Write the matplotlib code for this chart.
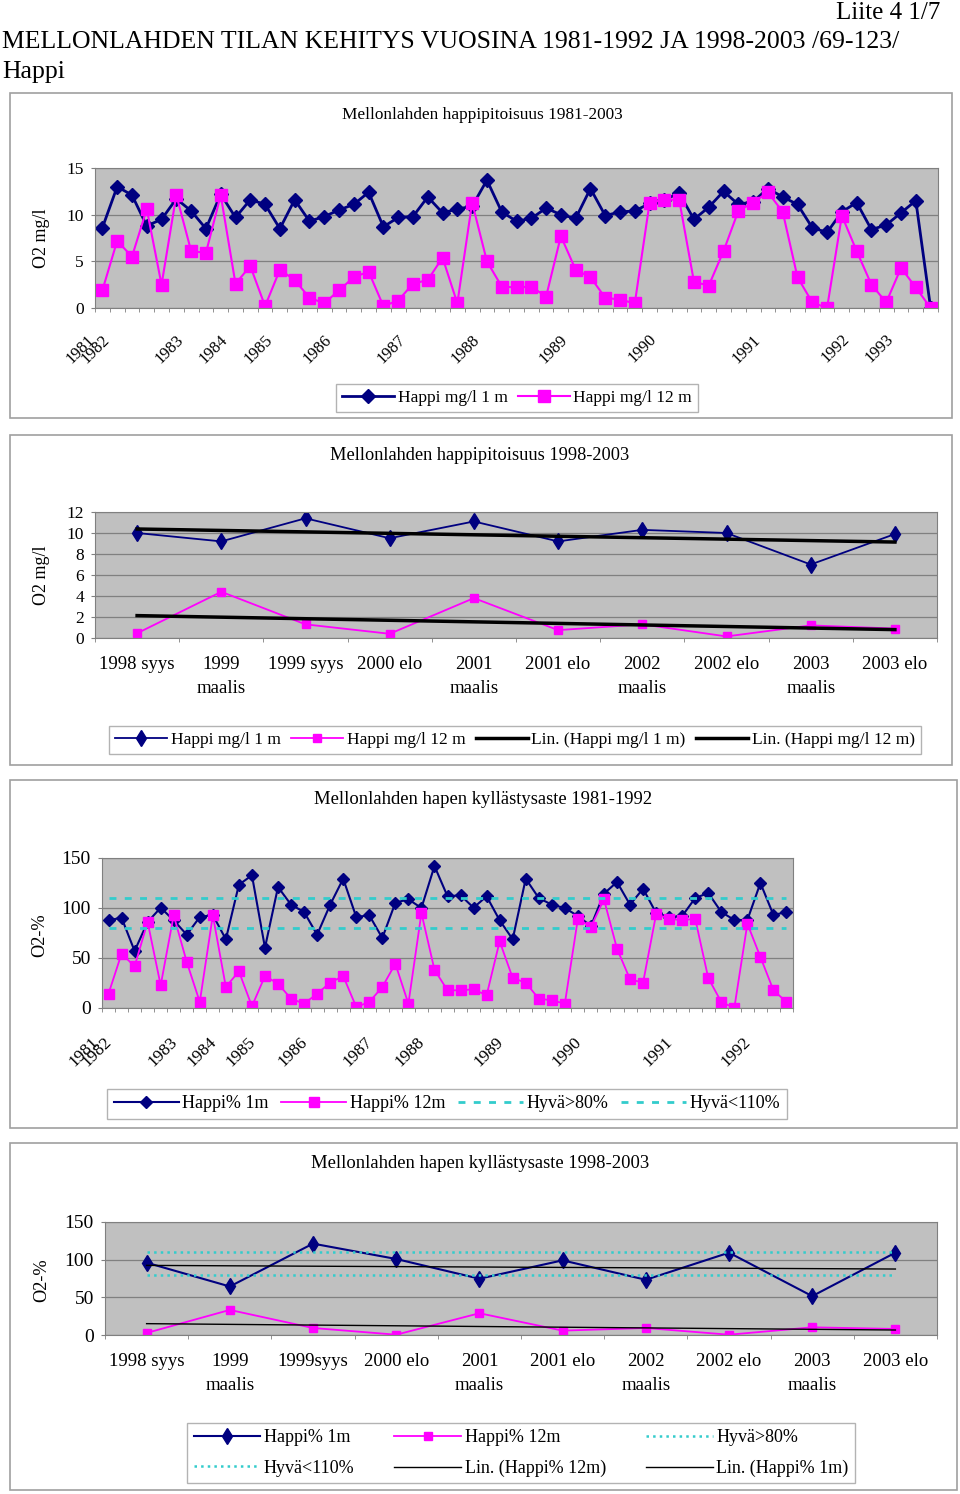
import numpy as np
import matplotlib
matplotlib.use('Agg')
import matplotlib.pyplot as plt
from matplotlib.patches import Rectangle
from matplotlib.transforms import ScaledTranslation

plt.rcParams['font.family'] = ['Liberation Serif', 'DejaVu Serif']
plt.rcParams['font.size'] = 12

# ---------------- data ----------------
# 1981-2003 oxygen, mg/l (one value per sampling)
happi_1m = [8.6, 13.0, 12.1, 8.8, 9.5, 11.7, 10.4, 8.5, 12.2, 9.7,
            11.6, 11.1, 8.5, 11.6, 9.3, 9.8, 10.5, 11.1, 12.4, 8.7,
            9.7, 9.8, 11.9, 10.2, 10.6, 10.9, 13.7, 10.3, 9.3, 9.6,
            10.7, 10.0, 9.6, 12.8, 9.9, 10.3, 10.4, 11.2, 11.6, 12.3,
            9.5, 10.8, 12.5, 11.1, 11.4, 12.8, 11.9, 11.1, 8.6, 8.1,
            10.3, 11.3, 8.4, 8.9, 10.2, 11.5, 0.0]
happi_12m = [1.9, 7.2, 5.5, 10.6, 2.5, 12.1, 6.1, 5.9, 12.1, 2.6,
             4.5, 0.2, 4.1, 3.0, 1.1, 0.5, 1.9, 3.3, 3.9, 0.2,
             0.8, 2.6, 3.0, 5.4, 0.5, 11.3, 5.0, 2.3, 2.2, 2.3,
             1.2, 7.7, 4.1, 3.3, 1.1, 0.9, 0.5, 11.3, 11.6, 11.6,
             2.8, 2.4, 6.1, 10.4, 11.3, 12.4, 10.3, 3.3, 0.6, 0.0,
             9.9, 6.1, 2.5, 0.6, 4.3, 2.2, 0.0]
years1_pos = [0, 1, 6, 9, 12, 16, 21, 26, 32, 38, 45, 51, 54]
years1_lbl = ['1981', '1982', '1983', '1984', '1985', '1986', '1987',
              '1988', '1989', '1990', '1991', '1992', '1993']

# 1998-2003 oxygen, mg/l
kaudet = ['1998 syys', '1999\nmaalis', '1999 syys', '2000 elo', '2001\nmaalis',
          '2001 elo', '2002\nmaalis', '2002 elo', '2003\nmaalis', '2003 elo']
kaudet4 = ['1998 syys', '1999\nmaalis', '1999syys', '2000 elo', '2001\nmaalis',
           '2001 elo', '2002\nmaalis', '2002 elo', '2003\nmaalis', '2003 elo']
mg_1m = [10.0, 9.2, 11.4, 9.5, 11.1, 9.2, 10.3, 10.0, 7.0, 9.9]
mg_12m = [0.45, 4.4, 1.3, 0.4, 3.8, 0.75, 1.3, 0.15, 1.2, 0.9]

# 1981-1992 saturation, %
sat_1m = [87.7, 90.3, 57, 86, 100.3, 87.7, 73.3, 91, 93, 68.7,
          123.3, 132.7, 60.3, 121, 103.3, 96, 73.3, 103.3, 129.3, 91,
          92.7, 70, 105.3, 108.7, 100, 142, 111.7, 112.7, 100.3, 111.7,
          87.7, 68.7, 129.3, 110, 103.3, 100, 92, 82, 114.3, 126,
          103.3, 119.3, 95, 91, 92, 110, 115, 96, 88, 88,
          125, 93, 96]
sat_12m = [14.3, 54.3, 41.7, 86, 22.7, 92.7, 46, 6, 92.7, 21,
           36.7, 1.7, 32, 24.3, 9.3, 4.3, 14.3, 25.3, 32, 1,
           6, 21, 44.3, 4.3, 95, 38.3, 17.7, 17.7, 18.7, 12.7,
           66.7, 30, 25.3, 9.3, 7.7, 4.3, 89.3, 81, 108.7, 59.3,
           28.7, 25.3, 93.7, 89.3, 87.7, 89.3, 30, 6, 0, 84.3,
           51, 17.7, 6]
years3_pos = [0, 1, 6, 9, 12, 16, 21, 25, 31, 37, 44, 50]
years3_lbl = ['1981', '1982', '1983', '1984', '1985', '1986', '1987',
              '1988', '1989', '1990', '1991', '1992']

# 1998-2003 saturation, %
sat2_1m = [96, 64.4, 121.3, 100.9, 74.7, 99.1, 73.3, 109.3, 51.6, 109.3]
sat2_12m = [2.7, 33.3, 9.3, 0.4, 28.9, 5.8, 9.3, 0.4, 10.2, 8.0]

hyva_ala = 80
hyva_yla = 110

# ---------------- style ----------------
BLUE = '#000080'
PINK = '#FF00FF'
CYAN = '#33CCCC'
W, H = 960, 1494

fig = plt.figure(figsize=(W / 100, H / 100), dpi=100)


def fx(x):
    return x / W


def fy(y):
    return 1 - y / H


def box(x0, y0, x1, y1):
    fig.add_artist(Rectangle((fx(x0), fy(y1)), (x1 - x0) / W, (y1 - y0) / H,
                             transform=fig.transFigure, fill=False,
                             edgecolor='#a0a0a0', lw=1.2))


def make_axes(x0, y0, x1, y1, n, ysize):
    ax = fig.add_axes([fx(x0), fy(y1), (x1 - x0) / W, (y1 - y0) / H])
    ax.set_facecolor('#C0C0C0')
    for s in ax.spines.values():
        s.set_color('#808080')
    ax.grid(axis='y', color='#808080', lw=0.9)
    ax.set_axisbelow(True)
    ax.set_xlim(-0.5, n - 0.5)
    ax.set_xticks(np.arange(n + 1) - 0.5, minor=True)
    ax.tick_params(axis='x', which='minor', length=3, color='#808080')
    ax.tick_params(axis='x', which='major', length=0)
    ax.tick_params(axis='y', length=3, color='#808080', pad=5, labelsize=ysize)
    return ax


def legend(handles, x, y, ncol, hl, size, colsp=0.6, rowsp=0.3):
    leg = fig.legend(handles=handles, loc='center', bbox_to_anchor=(fx(x), fy(y)),
                     ncol=ncol, frameon=True, fancybox=False, fontsize=size,
                     handlelength=hl, handletextpad=0.2, columnspacing=colsp,
                     borderpad=0.35, labelspacing=rowsp)
    leg.get_frame().set_edgecolor('#a0a0a0')
    leg.get_frame().set_linewidth(1.0)
    return leg


# header
fig.text(fx(940), fy(13), 'Liite 4 1/7', ha='right', va='center', fontsize=18)
fig.text(fx(2), fy(42), 'MELLONLAHDEN TILAN KEHITYS VUOSINA 1981-1992 JA 1998-2003 /69-123/',
         ha='left', va='center', fontsize=18.5)
fig.text(fx(2), fy(72), 'Happi', ha='left', va='center', fontsize=18.5)

# ---------------- chart 1 ----------------
box(10, 93, 952, 418)
fig.text(fx(482), fy(115), 'Mellonlahden happipitoisuus 1981-2003', ha='center', va='center',
         fontsize=12.4)
fig.text(fx(42), fy(238), 'O2 mg/l', rotation=90, ha='center', va='center', fontsize=13)
ax1 = make_axes(95, 168, 938, 308, len(happi_1m), 12.5)
x1 = np.arange(len(happi_1m))
l1, = ax1.plot(x1, happi_1m, color=BLUE, lw=2, marker='D', ms=7, label='Happi mg/l 1 m')
l2, = ax1.plot(x1, happi_12m, color=PINK, lw=1.5, marker='s', ms=8, label='Happi mg/l 12 m')
ax1.set_ylim(0, 15)
ax1.set_yticks([0, 5, 10, 15])
ax1.set_xticks(years1_pos)
ax1.set_xticklabels(years1_lbl, rotation=45, ha='right', va='center',
                    rotation_mode='anchor')
ax1.tick_params(axis='x', which='major', pad=21)
for t in ax1.get_xticklabels():
    t.set_transform(t.get_transform() + ScaledTranslation(-0.1, 0, fig.dpi_scale_trans))
legend([l1, l2], 517, 398, 2, 3, 12.5)

# ---------------- chart 2 ----------------
box(10, 435, 952, 765)
fig.text(fx(480), fy(456), 'Mellonlahden happipitoisuus 1998-2003', ha='center', va='center',
         fontsize=13.2)
fig.text(fx(42), fy(575), 'O2 mg/l', rotation=90, ha='center', va='center', fontsize=13)
ax2 = make_axes(95, 512, 937, 638, len(kaudet), 12.5)
x2 = np.arange(len(kaudet))
m1, = ax2.plot(x2, mg_1m, color=BLUE, lw=1.3, marker='d', ms=8, label='Happi mg/l 1 m')
m2, = ax2.plot(x2, mg_12m, color=PINK, lw=1.3, marker='s', ms=6, label='Happi mg/l 12 m')
p1 = np.polyfit(x2, mg_1m, 1)
p2 = np.polyfit(x2, mg_12m, 1)
t1, = ax2.plot(x2[[0, -1]], np.polyval(p1, x2[[0, -1]]), color='black', lw=2.5,
               label='Lin. (Happi mg/l 1 m)')
t2, = ax2.plot(x2[[0, -1]], np.polyval(p2, x2[[0, -1]]), color='black', lw=2.5,
               label='Lin. (Happi mg/l 12 m)')
ax2.set_ylim(0, 12)
ax2.set_yticks(range(0, 13, 2))
ax2.set_xticks(x2)
ax2.set_xticklabels(kaudet, linespacing=1.55)
ax2.tick_params(axis='x', which='major', pad=13, labelsize=13.5)
legend([m1, m2, t1, t2], 515, 740, 4, 3, 12.5)

# ---------------- chart 3 ----------------
box(10, 780, 957, 1128)
fig.text(fx(483), fy(800), 'Mellonlahden hapen kyllästysaste 1981-1992', ha='center', va='center',
         fontsize=13.4)
fig.text(fx(40), fy(935), 'O2-%', rotation=90, ha='center', va='center', fontsize=13.2)
ax3 = make_axes(102, 858, 793, 1008, len(sat_1m), 14)
x3 = np.arange(len(sat_1m))
s1, = ax3.plot(x3, sat_1m, color=BLUE, lw=1.5, marker='D', ms=6.5, label='Happi% 1m')
s2, = ax3.plot(x3, sat_12m, color=PINK, lw=1.3, marker='s', ms=7.5, label='Happi% 12m')
h1, = ax3.plot(x3[[0, -1]], [hyva_ala, hyva_ala], color=CYAN, lw=2, ls=(0, (2.5, 3)),
               label='Hyvä>80%')
h2, = ax3.plot(x3[[0, -1]], [hyva_yla, hyva_yla], color=CYAN, lw=2, ls=(0, (2.5, 3)),
               label='Hyvä<110%')
ax3.set_ylim(0, 150)
ax3.set_yticks([0, 50, 100, 150])
ax3.set_xticks(years3_pos)
ax3.set_xticklabels(years3_lbl, rotation=45, ha='right', va='center',
                    rotation_mode='anchor', fontsize=12.5)
ax3.tick_params(axis='x', which='major', pad=23)
for t in ax3.get_xticklabels():
    t.set_transform(t.get_transform() + ScaledTranslation(-0.12, 0, fig.dpi_scale_trans))
legend([s1, s2, h1, h2], 447, 1104, 4, 3.6, 13, colsp=0.7)

# ---------------- chart 4 ----------------
box(10, 1143, 957, 1490)
fig.text(fx(480), fy(1164), 'Mellonlahden hapen kyllästysaste 1998-2003', ha='center', va='center',
         fontsize=13.4)
fig.text(fx(42), fy(1280), 'O2-%', rotation=90, ha='center', va='center', fontsize=13.2)
ax4 = make_axes(105, 1222, 937, 1335, len(kaudet4), 14)
x4 = np.arange(len(kaudet4))
k1, = ax4.plot(x4, sat2_1m, color=BLUE, lw=1.5, marker='d', ms=8, label='Happi% 1m')
k2, = ax4.plot(x4, sat2_12m, color=PINK, lw=1.3, marker='s', ms=6, label='Happi% 12m')
g1, = ax4.plot(x4[[0, -1]], [hyva_ala, hyva_ala], color=CYAN, lw=1.8, ls=':',
               label='Hyvä>80%')
g2, = ax4.plot(x4[[0, -1]], [hyva_yla, hyva_yla], color=CYAN, lw=1.8, ls=':',
               label='Hyvä<110%')
q1 = np.polyfit(x4, sat2_1m, 1)
q2 = np.polyfit(x4, sat2_12m, 1)
r2, = ax4.plot(x4[[0, -1]], np.polyval(q2, x4[[0, -1]]), color='black', lw=1,
               label='Lin. (Happi% 12m)')
r1, = ax4.plot(x4[[0, -1]], np.polyval(q1, x4[[0, -1]]), color='black', lw=1,
               label='Lin. (Happi% 1m)')
ax4.set_ylim(0, 150)
ax4.set_yticks([0, 50, 100, 150])
ax4.set_xticks(x4)
ax4.set_xticklabels(kaudet4, linespacing=1.55)
ax4.tick_params(axis='x', which='major', pad=13, labelsize=13.5)
# legend laid out row by row: 3 per row
legend([k1, g2, k2, r2, g1, r1], 521, 1453, 3, 3.7, 13, colsp=2.2, rowsp=0.75)

fig.savefig('out.png', dpi=100)
